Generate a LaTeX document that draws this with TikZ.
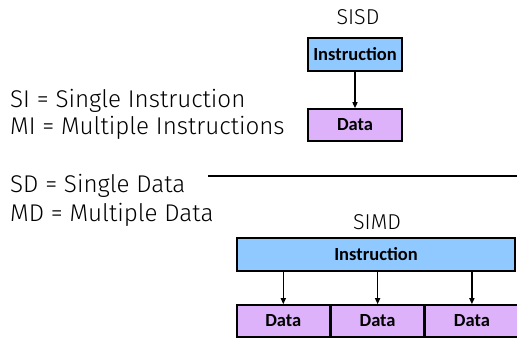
\documentclass[tikz,border=0pt]{standalone}
\usepackage{fontspec}
\setmainfont{Fira Sans Light}
\newfontfamily\boxfont{Carlito}
\usetikzlibrary{arrows.meta,positioning}
\definecolor{instblue}{HTML}{8FC9FF}
\definecolor{datapurple}{HTML}{DDB2FB}
\tikzset{>={Triangle[width=5pt,length=6pt]},
  every node/.style={inner sep=0pt},
  legend/.style={anchor=base west,font=\fontsize{24.2}{26}\selectfont},
  title/.style={anchor=base,font=\fontsize{21.5}{24}\selectfont},
  instbox/.style={draw=black,fill=instblue,line width=1.6pt,minimum height=33pt,font=\boxfont\bfseries\fontsize{18.5}{20}\selectfont},
  databox/.style={draw=black,fill=datapurple,line width=1.6pt,minimum height=32pt,minimum width=92.7pt,font=\boxfont\bfseries\fontsize{18.5}{20}\selectfont},
  flow/.style={->,line width=1.4pt}}

\begin{document}
\begin{tikzpicture}[x=1pt,y=-1pt]
\useasboundingbox(0,0)rectangle(517,339);
% legend
\node[legend](si)at(10,108){SI = Single Instruction};
\node[legend](mi)at(10,135){MI = Multiple Instructions};
\node[legend](sd)at(10,193){SD = Single Data};
\node[legend](md)at(10,222){MD = Multiple Data};
\coordinate(ruleL)at(208,176);\coordinate(ruleR)at(517,176);
\draw[line width=1.4pt](ruleL)--(ruleR);
% SISD
\node[title](sisd)at(358,25){SISD};
\node[instbox,minimum width=94pt](sisdInst)at(355,54.5){Instruction};
\node[databox,minimum width=94pt](sisdData)at(355,125){Data};
\draw[flow](sisdInst)--(sisdData);
% SIMD
\node[title](simd)at(377,230){SIMD};
\node[instbox,minimum width=278pt](simdInst)at(376,254.5){Instruction};
\node[databox](simdD1)at(283.3,321){Data};
\node[databox,right=0pt of simdD1](simdD2){Data};
\node[databox,right=0pt of simdD2](simdD3){Data};
\foreach \d in {simdD1,simdD2,simdD3}
  \draw[flow](\d.north|-simdInst.south)--(\d.north);
\end{tikzpicture}
\end{document}
